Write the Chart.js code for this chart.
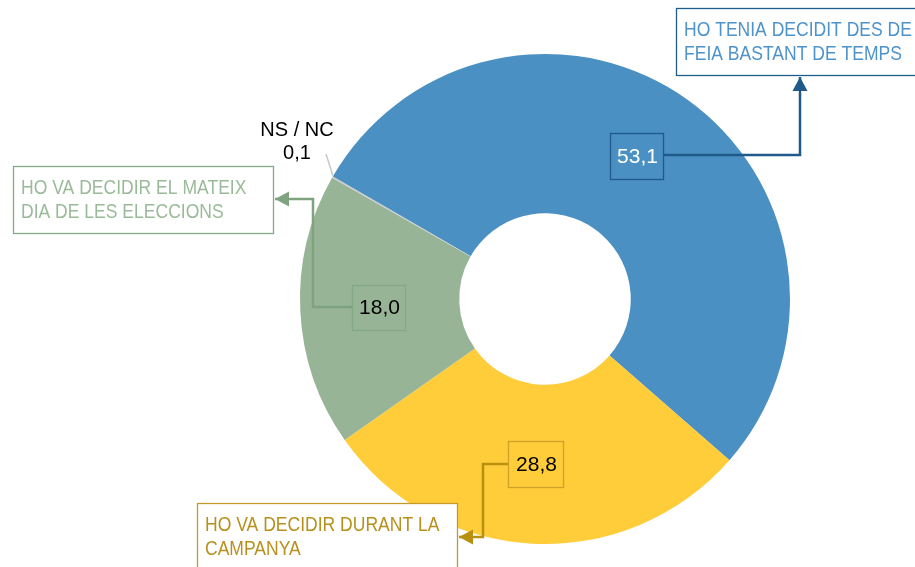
<!DOCTYPE html>
<html>
<head>
<meta charset="utf-8">
<script src="https://cdn.jsdelivr.net/npm/chart.js@4/dist/chart.umd.min.js"></script>
<style>
  html, body { margin: 0; padding: 0; background: #fff; }
  #wrap { width: 915px; height: 567px; }
</style>
</head>
<body>
<div id="wrap"><canvas id="donut" width="915" height="567"></canvas></div>
<script>
// data
const categories = [
  "HO TENIA DECIDIT DES DE FEIA BASTANT DE TEMPS",
  "HO VA DECIDIR DURANT LA CAMPANYA",
  "HO VA DECIDIR EL MATEIX DIA DE LES ELECCIONS",
  "NS / NC",
];
const values = [53.1, 28.8, 18.0, 0.1];
const sliceColors = ["#4A90C2", "#FFCC3A", "#97B497", "#C8C8C8"];

// callout layout (pixels on the canvas)
const callouts = [
  { // blue
    box: [610, 133, 53, 46], valueColor: "#ffffff", boxBorder: "#1F5A8A",
    path: [[663, 155], [800, 155], [800, 77]], arrow: "up", lineColor: "#1F5A8A",
    label: [676, 8, 260, 67], labelLines: ["HO TENIA DECIDIT DES DE", "FEIA BASTANT DE TEMPS"],
    labelText: "#4F93CB", labelBorder: "#1F5D8C",
  },
  { // yellow
    box: [508, 441, 55, 46], valueColor: "#000000", boxBorder: "#D0A22A",
    path: [[508, 464], [483, 464], [483, 537], [459, 537]], arrow: "left", lineColor: "#B8900F",
    label: [197, 503, 260, 80], labelLines: ["HO VA DECIDIR DURANT LA", "CAMPANYA"],
    labelText: "#B8901E", labelBorder: "#C49A2A",
  },
  { // green
    box: [352, 285, 53, 45], valueColor: "#000000", boxBorder: "#84A784",
    path: [[352, 307], [313, 307], [313, 199], [275, 199]], arrow: "left", lineColor: "#7FA37F",
    label: [13, 166, 260, 67], labelLines: ["HO VA DECIDIR EL MATEIX", "DIA DE LES ELECCIONS"],
    labelText: "#9ABA9A", labelBorder: "#86A886",
  },
];

function fmt(v) {
  return v.toFixed(1).replace(".", ",");
}

function narrowText(ctx, txt, x, y) {
  // condensed look like Arial Narrow
  ctx.save();
  ctx.translate(x, y);
  ctx.scale(0.835, 1);
  ctx.fillText(txt, 0, 0);
  ctx.restore();
}

const calloutPlugin = {
  id: "callouts",
  afterDraw(chart) {
    const ctx = chart.ctx;
    ctx.save();
    callouts.forEach((c, i) => {
      // leader line
      ctx.strokeStyle = c.lineColor;
      ctx.lineWidth = 2.5;
      ctx.beginPath();
      c.path.forEach((p, k) => (k === 0 ? ctx.moveTo(p[0], p[1]) : ctx.lineTo(p[0], p[1])));
      ctx.stroke();
      const tip = c.path[c.path.length - 1];
      ctx.fillStyle = c.lineColor;
      ctx.beginPath();
      if (c.arrow === "up") {
        ctx.moveTo(tip[0], tip[1]);
        ctx.lineTo(tip[0] - 7.5, tip[1] + 14);
        ctx.lineTo(tip[0] + 7.5, tip[1] + 14);
      } else {
        ctx.moveTo(tip[0], tip[1]);
        ctx.lineTo(tip[0] + 14, tip[1] - 7.5);
        ctx.lineTo(tip[0] + 14, tip[1] + 7.5);
      }
      ctx.closePath();
      ctx.fill();

      // value box
      const [bx, by, bw, bh] = c.box;
      ctx.strokeStyle = c.boxBorder;
      ctx.lineWidth = 1.3;
      ctx.strokeRect(bx + 0.5, by + 0.5, bw, bh);
      ctx.fillStyle = c.valueColor;
      ctx.font = "21px 'Liberation Sans', Arial, sans-serif";
      ctx.textAlign = "center";
      ctx.textBaseline = "middle";
      ctx.fillText(fmt(values[i]), bx + bw / 2 + 1, by + bh / 2 + 1);

      // category box
      const [lx, ly, lw, lh] = c.label;
      ctx.fillStyle = "#ffffff";
      ctx.fillRect(lx, ly, lw, lh);
      ctx.strokeStyle = c.labelBorder;
      ctx.lineWidth = 1.3;
      ctx.strokeRect(lx + 0.5, ly + 0.5, lw, lh);
      ctx.fillStyle = c.labelText;
      ctx.font = "21px 'Liberation Sans', Arial, sans-serif";
      ctx.textAlign = "left";
      ctx.textBaseline = "middle";
      c.labelLines.forEach((t, k) => narrowText(ctx, t, lx + 8, ly + 22 + k * 24.5));
    });

    // NS / NC label with a short grey leader
    ctx.strokeStyle = "#C8C8C8";
    ctx.lineWidth = 1.5;
    ctx.beginPath();
    ctx.moveTo(326, 154);
    ctx.lineTo(333, 176);
    ctx.stroke();
    ctx.fillStyle = "#000000";
    ctx.font = "20px 'Liberation Sans', Arial, sans-serif";
    ctx.textAlign = "center";
    ctx.textBaseline = "middle";
    ctx.fillText(categories[3], 297, 130);
    ctx.fillText(fmt(values[3]), 297, 153);
    ctx.restore();
  },
};

new Chart(document.getElementById("donut"), {
  type: "doughnut",
  data: {
    labels: categories,
    datasets: [{
      data: values,
      backgroundColor: sliceColors,
      borderWidth: 0,
    }],
  },
  plugins: [calloutPlugin],
  options: {
    responsive: false,
    animation: false,
    events: [],
    rotation: -60,
    cutout: "35%",
    layout: { padding: { left: 300, right: 125, top: 54, bottom: 23 } },
    plugins: {
      legend: { display: false },
      tooltip: { enabled: false },
      title: { display: false },
    },
  },
});
</script>
</body>
</html>
